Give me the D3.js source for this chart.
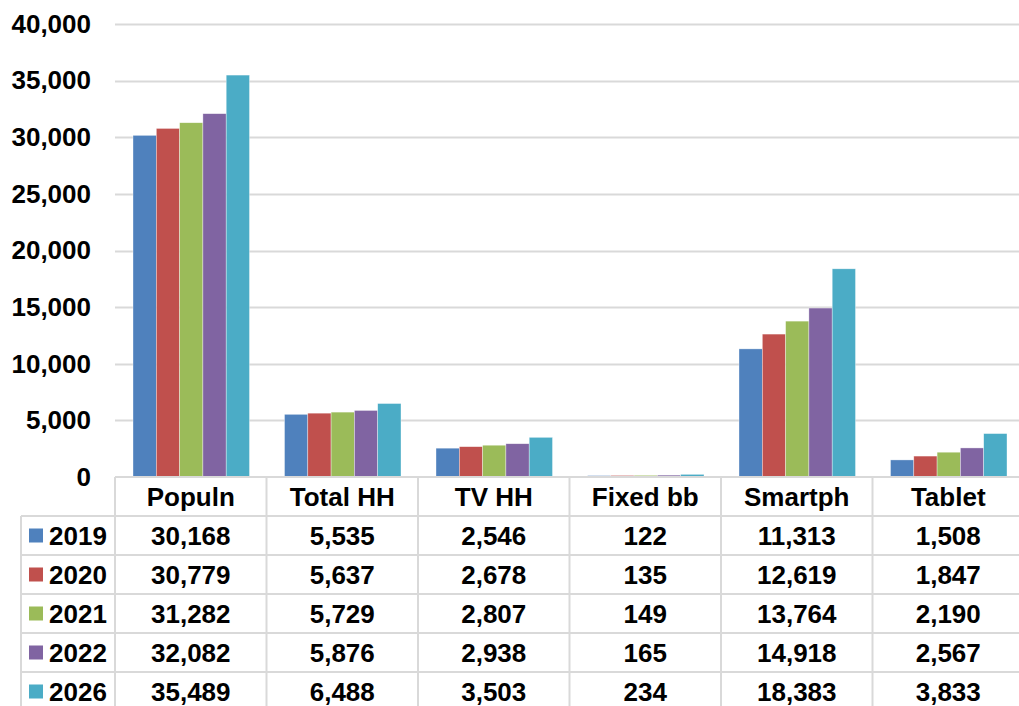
<!DOCTYPE html>
<html>
<head>
<meta charset="utf-8">
<script src="https://cdn.jsdelivr.net/npm/d3@7"></script>
<style>
  html, body { margin: 0; padding: 0; background: #fff; }
  svg { display: block; font-family: "Liberation Sans", Arial, sans-serif; font-weight: bold; }
</style>
</head>
<body>
<svg id="chart" width="1019" height="706"></svg>
<script>
// Categories along the x axis
const categories = ["Populn", "Total HH", "TV HH", "Fixed bb", "Smartph", "Tablet"];
// Series (years) and their colours
const years = ["2019", "2020", "2021", "2022", "2026"];
const colors = ["#4F81BD", "#C0504D", "#9BBB59", "#8064A2", "#4BACC6"];
// Values per year, in category order
const v2019 = [30168, 5535, 2546, 122, 11313, 1508];
const v2020 = [30779, 5637, 2678, 135, 12619, 1847];
const v2021 = [31282, 5729, 2807, 149, 13764, 2190];
const v2022 = [32082, 5876, 2938, 165, 14918, 2567];
const v2026 = [35489, 6488, 3503, 234, 18383, 3833];
// Y axis ticks
const yTicks = [0, 5000, 10000, 15000, 20000, 25000, 30000, 35000, 40000];

const seriesValues = [v2019, v2020, v2021, v2022, v2026];
const series = years.map((y, i) => ({ year: y, color: colors[i], values: seriesValues[i] }));

const svg = d3.select("#chart");
const fmt = d3.format(",");
const fontSize = 26;
const gridColor = "#d9d9d9";

const plotLeft = 115, plotRight = 1024, plotTop = 24, plotBottom = 477;
const tableLeft = 21, rowH = 39;

const x0 = d3.scaleBand().domain(categories).range([plotLeft, plotRight]).padding(0);
const x1 = d3.scaleBand().domain(years).range([18, x0.bandwidth() - 17]).padding(0);
const y = d3.scaleLinear().domain([0, 40000]).range([plotBottom, plotTop]);

// Gridlines
svg.append("g")
  .selectAll("line")
  .data(yTicks.filter(t => t > 0))
  .join("line")
  .attr("x1", plotLeft).attr("x2", plotRight)
  .attr("y1", d => Math.round(y(d)) + 0.5).attr("y2", d => Math.round(y(d)) + 0.5)
  .attr("stroke", gridColor).attr("stroke-width", 2);

// Y axis labels
const yAxis = d3.axisLeft(y).tickValues(yTicks).tickFormat(fmt).tickSize(0).tickPadding(24);
const gy = svg.append("g").attr("transform", `translate(${plotLeft},0)`).call(yAxis);
gy.select(".domain").remove();
gy.selectAll("text")
  .attr("font-size", fontSize)
  .attr("font-family", "'Liberation Sans', Arial, sans-serif")
  .attr("font-weight", "bold")
  .attr("fill", "#000");

// Bars
const groups = svg.append("g")
  .selectAll("g")
  .data(series)
  .join("g")
  .attr("fill", d => d.color);

groups.selectAll("rect")
  .data(d => d.values.map((v, i) => ({ year: d.year, cat: categories[i], value: v })))
  .join("rect")
  .attr("x", d => x0(d.cat) + x1(d.year))
  .attr("width", x1.bandwidth())
  .attr("y", d => y(d.value))
  .attr("height", d => y(0) - y(d.value))
  .attr("stroke", "#ffffff")
  .attr("stroke-opacity", 0.6)
  .attr("stroke-width", 0.6);

// Data table beneath the plot
const rows = ["header"].concat(years);
const ry = d3.scaleBand().domain(rows).range([plotBottom, plotBottom + rows.length * rowH]);
const table = svg.append("g");

// horizontal rules
table.append("line")
  .attr("x1", plotLeft).attr("x2", plotRight)
  .attr("y1", ry("header")).attr("y2", ry("header"))
  .attr("stroke", gridColor).attr("stroke-width", 2);
table.selectAll("line.h")
  .data(years)
  .join("line")
  .attr("class", "h")
  .attr("x1", tableLeft).attr("x2", plotRight)
  .attr("y1", d => ry(d)).attr("y2", d => ry(d))
  .attr("stroke", gridColor).attr("stroke-width", 2);

// vertical rules
table.append("line")
  .attr("x1", tableLeft).attr("x2", tableLeft)
  .attr("y1", ry(years[0])).attr("y2", 706)
  .attr("stroke", gridColor).attr("stroke-width", 2);
table.selectAll("line.v")
  .data(categories.concat(["end"]))
  .join("line")
  .attr("class", "v")
  .attr("x1", (d, i) => plotLeft + i * x0.step()).attr("x2", (d, i) => plotLeft + i * x0.step())
  .attr("y1", ry("header")).attr("y2", 706)
  .attr("stroke", gridColor).attr("stroke-width", 2);

// header labels
table.selectAll("text.cat")
  .data(categories)
  .join("text")
  .attr("class", "cat")
  .attr("x", d => x0(d) + x0.bandwidth() / 2)
  .attr("y", ry("header") + ry.bandwidth() / 2)
  .attr("text-anchor", "middle")
  .attr("dominant-baseline", "central")
  .attr("font-size", fontSize)
  .text(d => d);

// legend keys and year labels
const legendRows = table.selectAll("g.leg")
  .data(series)
  .join("g")
  .attr("class", "leg")
  .attr("transform", d => `translate(0,${ry(d.year)})`);

legendRows.append("rect")
  .attr("x", 29).attr("y", ry.bandwidth() / 2 - 7)
  .attr("width", 14).attr("height", 14)
  .attr("fill", d => d.color);

legendRows.append("text")
  .attr("x", 49)
  .attr("y", ry.bandwidth() / 2)
  .attr("dominant-baseline", "central")
  .attr("font-size", fontSize)
  .text(d => d.year);

// values
legendRows.selectAll("text.val")
  .data(d => d.values.map((v, i) => ({ cat: categories[i], value: v })))
  .join("text")
  .attr("class", "val")
  .attr("x", d => x0(d.cat) + x0.bandwidth() / 2)
  .attr("y", ry.bandwidth() / 2)
  .attr("text-anchor", "middle")
  .attr("dominant-baseline", "central")
  .attr("font-size", fontSize)
  .text(d => fmt(d.value));
</script>
</body>
</html>
